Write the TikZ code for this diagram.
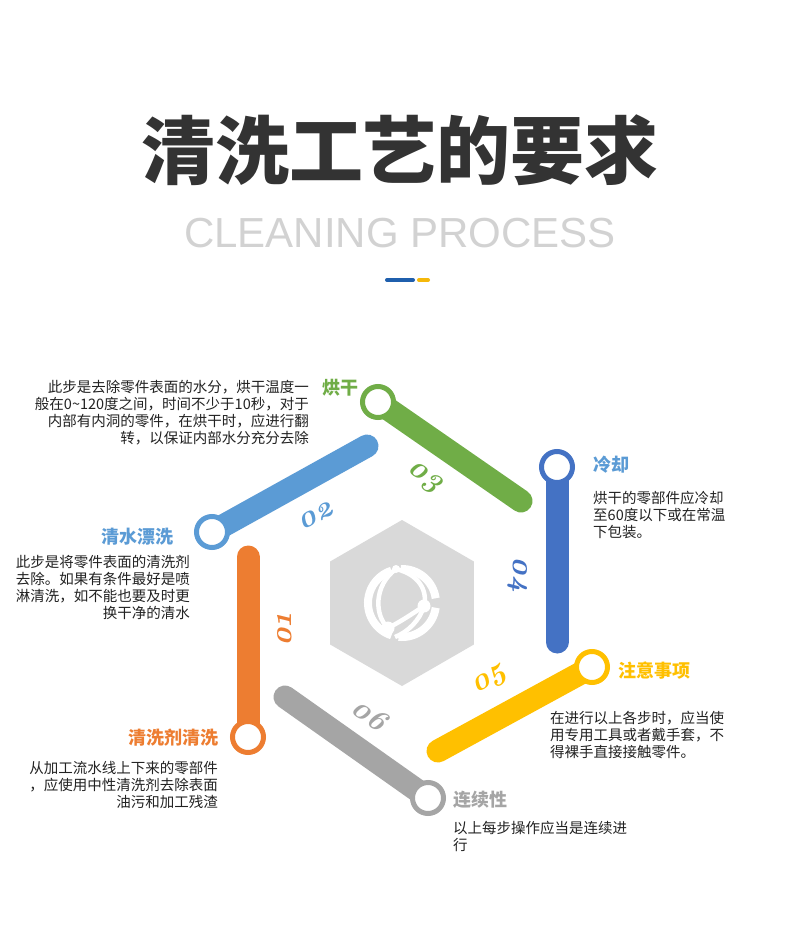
\documentclass[tikz,border=0pt]{standalone}
\usepackage{fontspec}
\usepackage{tikz}
\usetikzlibrary{shapes,arrows.meta,positioning,backgrounds,calc}
\usepackage{xcolor}
\newfontfamily\cjk{Noto Sans CJK SC}
\newfontfamily\enfont{Liberation Sans}
\newfontfamily\numfont{Latin Modern Roman}[Numbers=OldStyle]
\definecolor{cOrange}{HTML}{ED7D31}
\definecolor{cSky}{HTML}{5B9BD5}
\definecolor{cGreen}{HTML}{70AD47}
\definecolor{cBlue}{HTML}{4472C4}
\definecolor{cYellow}{HTML}{FFC000}
\definecolor{cGray}{HTML}{A5A5A5}
\definecolor{hexGray}{HTML}{D9D9D9}
\definecolor{titleDark}{HTML}{333333}
\definecolor{subGray}{HTML}{D2D2D2}
\definecolor{textDark}{HTML}{222222}
\definecolor{decoBlue}{HTML}{1F5FAD}
\definecolor{decoYellow}{HTML}{F5B80A}

\begin{document}
\begin{tikzpicture}[x=1pt, y=-1pt,
    bar/.style={draw=#1, line width=23pt, line cap=round},
    ring/.style={circle, draw=#1, line width=5pt, fill=white, minimum size=31pt, inner sep=0pt},
    num/.style={font=\numfont\bfseries\itshape\fontsize{30}{30}\selectfont, text=#1, inner sep=0pt},
    stephead/.style={font=\cjk\bfseries\fontsize{18}{18}\selectfont, text=#1, inner sep=0pt},
    desc/.style={font=\cjk\fontsize{14.5}{17}\selectfont, text=textDark, inner sep=0pt}
]
    \fill[white] (0,0) rectangle (800,930);
    \useasboundingbox (0,0) rectangle (800,930);

    % 标题
    \node[font=\cjk\bfseries\fontsize{74}{80}\selectfont, text=titleDark] (title) at (400,150) {清洗工艺的要求};
    \node[font=\enfont\fontsize{42}{42}\selectfont, text=subGray] (subtitle) at (400,233) {CLEANING PROCESS};
    \draw[decoBlue, line width=4pt, line cap=round] (387,280) -- (413,280);
    \draw[decoYellow, line width=4pt, line cap=round] (419,280) -- (428,280);

    % 中心六边形
    \node[regular polygon, regular polygon sides=6, shape border rotate=30, minimum size=166pt, inner sep=0pt, fill=hexGray] (hex) at (402,603) {};
    \coordinate (ic) at (402,603);
    \draw[white, line width=8pt] (ic) ++(8:34) arc[start angle=8, end angle=96, radius=34];
    \draw[white, line width=8pt] (ic) ++(108:34) arc[start angle=108, end angle=252, radius=34];
    \draw[white, line width=8pt] (ic) ++(268:34) arc[start angle=268, end angle=352, radius=34];
    \draw[white, line width=4.5pt] (396,569) .. controls (374,585) and (374,615) .. (388,628);
    \draw[white, line width=4.5pt] (388,628) .. controls (400,622) and (412,614) .. (424,606);
    \draw[white, line width=4.5pt] (396,569) .. controls (418,574) and (428,590) .. (424,606);
    \draw[white, line width=4.5pt] (424,606) .. controls (420,620) and (408,632) .. (395,637);
    \fill[white] (424,606) circle (6.5) (388,628) circle (6.5) (396,569) circle (4);

    % 圆环位置与线段端点
    \coordinate (c1) at (248,737);
    \coordinate (e1) at (248,557);
    \coordinate (c2) at (212,532);
    \coordinate (e2) at (367,446);
    \coordinate (c3) at (378,402);
    \coordinate (e3) at (521,501);
    \coordinate (c4) at (557,467);
    \coordinate (e4) at (557,642);
    \coordinate (c5) at (592,667);
    \coordinate (e5) at (438,751);
    \coordinate (c6) at (428,798);
    \coordinate (e6) at (285,697);

    % 线段
    \draw[bar=cOrange] (e1) -- (c1);
    \draw[bar=cSky] (c2) -- (e2);
    \draw[bar=cGreen] (c3) -- (e3);
    \draw[bar=cBlue] (c4) -- (e4);
    \draw[bar=cYellow] (c5) -- (e5);
    \draw[bar=cGray] (e6) -- (c6);

    % 圆环
    \node[ring=cOrange] (wash) at (c1) {};
    \node[ring=cSky] (rinse) at (c2) {};
    \node[ring=cGreen] (dry) at (c3) {};
    \node[ring=cBlue] (cool) at (c4) {};
    \node[ring=cYellow] (note) at (c5) {};
    \node[ring=cGray] (cont) at (c6) {};

    % 编号
    \node[num=cOrange, rotate=90] (n1) at (285,630) {01};
    \node[num=cSky, rotate=28] (n2) at (316,516) {02};
    \node[num=cGreen, rotate=-35] (n3) at (424,478) {03};
    \node[num=cBlue, rotate=-90] (n4) at (518,575) {04};
    \node[num=cYellow, rotate=30] (n5) at (490,681) {05};
    \node[num=cGray, rotate=-35] (n6) at (370,714) {06};

    % 步骤标题
    \node[stephead=cGreen, anchor=east] (dryhead) at (359,388) {烘干};
    \node[stephead=cSky, anchor=east] (rinsehead) at (174,537) {清水漂洗};
    \node[stephead=cSky, anchor=west] (coolhead) at (593,465) {冷却};
    \node[stephead=cYellow, anchor=west] (notehead) at (618,671) {注意事项};
    \node[stephead=cGray, anchor=west] (conthead) at (453,800) {连续性};
    \node[stephead=cOrange, anchor=east] (washhead) at (219,738) {清洗剂清洗};

    % 说明文字
    \node[desc, align=right, anchor=north east] (drytext) at (309,380) {此步是去除零件表面的水分，烘干温度一\\般在0\textasciitilde120度之间，时间不少于10秒，对于\\内部有内洞的零件，在烘干时，应进行翻\\转，以保证内部水分充分去除};
    \node[desc, align=right, anchor=north east] (rinsetext) at (190,555) {此步是将零件表面的清洗剂\\去除。如果有条件最好是喷\\淋清洗，如不能也要及时更\\换干净的清水};
    \node[desc, align=left, anchor=north west] (cooltext) at (593,491) {烘干的零部件应冷却\\至60度以下或在常温\\下包装。};
    \node[desc, align=left, anchor=north west] (notetext) at (550,711) {在进行以上各步时，应当使\\用专用工具或者戴手套，不\\得裸手直接接触零件。};
    \node[desc, align=left, anchor=north west] (conttext) at (453,821) {以上每步操作应当是连续进\\行};
    \node[desc, align=right, anchor=north east] (washtext) at (218,761) {从加工流水线上下来的零部件\\，应使用中性清洗剂去除表面\\油污和加工残渣};
\end{tikzpicture}
\end{document}
